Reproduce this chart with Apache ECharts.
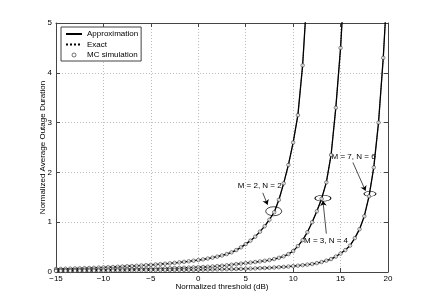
<!DOCTYPE html>
<html><head><meta charset="utf-8">
<script src="https://cdn.jsdelivr.net/npm/echarts@6/dist/echarts.min.js"></script>
<style>html,body{margin:0;padding:0;background:#fff}#c{width:429px;height:307px}</style>
</head><body><div id="c"></div>
<script>
// threshold grid (dB)
const xs = [-15,-14.5,-14,-13.5,-13,-12.5,-12,-11.5,-11,-10.5,-10,-9.5,-9,-8.5,-8,-7.5,-7,-6.5,-6,-5.5,
  -5,-4.5,-4,-3.5,-3,-2.5,-2,-1.5,-1,-0.5,0,0.5,1,1.5,2,2.5,3,3.5,4,4.5,5,5.5,6,6.5,7,7.5,8,8.5,9,9.5,
  10,10.5,11,11.5,12,12.5,13,13.5,14,14.5,15,15.5,16,16.5,17,17.5,18,18.5,19,19.5,20];
// M = 2, N = 2
const yM2N2 = [0.060,0.062,0.065,0.068,0.071,0.074,0.077,0.080,0.084,0.088,
  0.092,0.096,0.100,0.105,0.110,0.115,0.120,0.125,0.131,0.137,
  0.144,0.151,0.158,0.166,0.174,0.183,0.193,0.204,0.215,0.227,
  0.240,0.254,0.270,0.288,0.308,0.332,0.360,0.395,0.440,0.495,
  0.560,0.630,0.710,0.810,0.920,1.050,1.200,1.450,1.780,2.150,
  2.600,3.150,4.150,5.700];
// M = 3, N = 4
const yM3N4 = [0.035,0.036,0.037,0.038,0.040,0.041,0.042,0.044,0.045,0.047,
  0.048,0.049,0.051,0.052,0.054,0.056,0.058,0.060,0.062,0.064,
  0.066,0.068,0.071,0.073,0.076,0.079,0.082,0.085,0.088,0.092,
  0.096,0.100,0.105,0.111,0.118,0.126,0.135,0.146,0.158,0.168,
  0.178,0.189,0.200,0.212,0.225,0.240,0.260,0.285,0.315,0.360,
  0.420,0.520,0.640,0.800,1.000,1.220,1.470,1.800,2.350,3.300,
  4.500,6.200];
// M = 7, N = 6
const yM7N6 = [0.020,0.020,0.021,0.021,0.022,0.023,0.023,0.024,0.025,0.026,
  0.026,0.027,0.028,0.029,0.029,0.030,0.031,0.032,0.033,0.034,
  0.035,0.036,0.037,0.038,0.039,0.040,0.041,0.042,0.043,0.044,
  0.045,0.047,0.048,0.050,0.052,0.054,0.056,0.058,0.060,0.063,
  0.066,0.069,0.072,0.076,0.080,0.085,0.090,0.096,0.103,0.110,
  0.118,0.127,0.137,0.148,0.160,0.178,0.200,0.228,0.260,0.310,
  0.370,0.440,0.530,0.680,0.860,1.120,1.520,2.100,3.000,4.300,
  6.000];
const xTicks = [-15,-10,-5,0,5,10,15,20];
const yTicks = [0,1,2,3,4,5];
const legendNames = ['Approximation','Exact','MC simulation'];
// annotations (data coordinates)
const annLabels = ['M = 2, N = 2','M = 3, N = 4','M = 7, N = 6'];
const annText = [[6.47,1.73],[13.47,0.62],[16.37,2.31]];
const annArrowFrom = [[6.8,1.59],[13.5,0.77],[16.3,2.2]];
const annArrowTo = [[7.3,1.35],[13.14,1.43],[17.63,1.63]];
const annEllipse = [[7.95,1.22],[13.14,1.48],[18.1,1.57]];
const annEllipseSize = [[16,9],[16,6],[12,5]];

const FONT = 'Liberation Sans, Arial, sans-serif';
const curves = [yM2N2, yM3N4, yM7N6];
const pairs = ys => ys.map((y,i)=>[xs[i], y]);

const series = [];
curves.forEach((ys, k) => {
  const s = {
    name:'Approximation', type:'line', data:pairs(ys), symbol:'none', z:3,
    lineStyle:{color:'#000', width:1.3}, itemStyle:{color:'#000'}, clip:true, silent:true
  };
  if (k === 0) {
    s.markLine = {
      silent:true, symbol:['none','arrow'], symbolSize:5,
      lineStyle:{color:'#000', width:0.7, type:'solid'}, label:{show:false},
      data: annArrowFrom.map((p,i)=>[{coord:p},{coord:annArrowTo[i]}])
    };
    s.markPoint = {
      silent:true,
      data: annEllipse.map((p,i)=>({coord:p, symbol:'circle', symbolSize:annEllipseSize[i],
          itemStyle:{color:'rgba(0,0,0,0)', borderColor:'#000', borderWidth:0.7}, label:{show:false}}))
        .concat(annText.map((p,i)=>({coord:p, symbol:'rect', symbolSize:1,
          itemStyle:{color:'rgba(0,0,0,0)'},
          label:{show:true, position:'inside', formatter:annLabels[i], color:'#000', fontSize:8, fontFamily:FONT}})))
    };
  }
  series.push(s);
});
curves.forEach(ys => series.push({
  name:'Exact', type:'line', data:pairs(ys), symbol:'none', z:4,
  lineStyle:{color:'#000', width:0.9, type:'dotted'}, itemStyle:{color:'#000'}, clip:true, silent:true
}));
curves.forEach(ys => series.push({
  name:'MC simulation', type:'scatter', data:pairs(ys).filter(p=>p[1]<=5.05),
  symbol:'circle', symbolSize:3.5, z:5, clip:true, silent:true,
  itemStyle:{color:'#fff', borderColor:'#222', borderWidth:0.7}
}));

const axisCommon = {
  axisLine:{show:true, onZero:false, lineStyle:{color:'#444', width:1}},
  axisTick:{show:true, inside:true, length:4, lineStyle:{color:'#444'}},
  nameMoveOverlap:false
};
const chart = echarts.init(document.getElementById('c'), null, {renderer:'canvas'});
chart.setOption({
  animation:false,
  backgroundColor:'#fff',
  grid:{left:56, right:41, top:23, bottom:35, containLabel:false},
  legend:{
    data:[
      {name:legendNames[0], itemStyle:{opacity:0}},
      {name:legendNames[1], itemStyle:{opacity:0}},
      {name:legendNames[2], icon:'circle', itemStyle:{color:'#fff', borderColor:'#222', borderWidth:0.8}}
    ],
    orient:'vertical', left:61, top:27,
    itemWidth:16, itemHeight:4, itemGap:2.5,
    padding:[3,3,2,4], borderColor:'#444', borderWidth:1, backgroundColor:'#fff',
    textStyle:{fontSize:8, lineHeight:8, fontFamily:FONT, color:'#000'},
    selectedMode:false, z:10
  },
  xAxis:[
    Object.assign({type:'value', min:-15, max:20, interval:5, position:'bottom',
      name:'Normalized threshold (dB)', nameLocation:'middle', nameGap:11,
      nameTextStyle:{fontSize:8, fontFamily:FONT, color:'#000'},
      axisLabel:{fontSize:8, fontFamily:FONT, color:'#000', margin:3,
        formatter:v=> xTicks.includes(v) ? (v<0 ? '\u2212'+(-v) : String(v)) : ''},
      splitLine:{show:true, lineStyle:{color:'#bbb', type:[1,2], width:1}}}, axisCommon),
    Object.assign({type:'value', min:-15, max:20, interval:5, position:'top',
      axisLabel:{show:false}, splitLine:{show:false}}, axisCommon)
  ],
  yAxis:[
    Object.assign({type:'value', min:0, max:5, interval:1, position:'left',
      name:'Normalized Average Outage Duration', nameLocation:'middle', nameGap:9,
      nameTextStyle:{fontSize:8, fontFamily:FONT, color:'#000'},
      axisLabel:{fontSize:8, fontFamily:FONT, color:'#000', margin:4,
        formatter:v=> yTicks.includes(v) ? String(v) : ''},
      splitLine:{show:true, lineStyle:{color:'#bbb', type:[1,2], width:1}}}, axisCommon),
    Object.assign({type:'value', min:0, max:5, interval:1, position:'right',
      axisLabel:{show:false}, splitLine:{show:false}}, axisCommon)
  ],
  series: series
});
</script></body></html>
